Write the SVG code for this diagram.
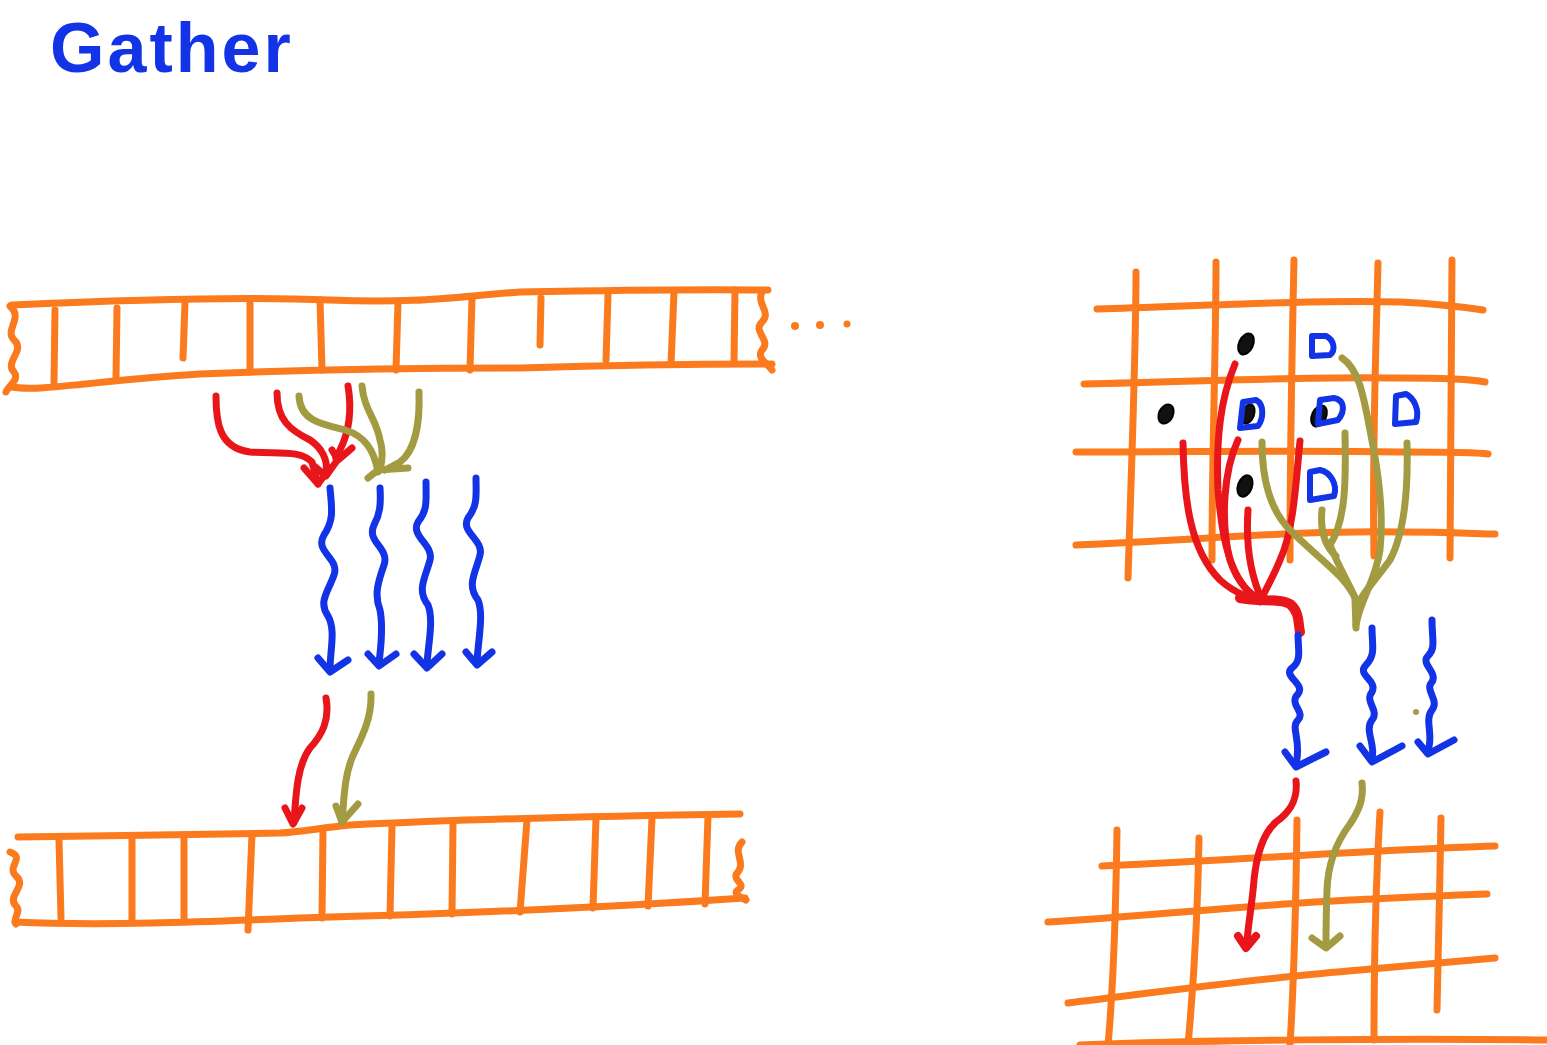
<svg xmlns="http://www.w3.org/2000/svg" width="1547" height="1045" viewBox="0 0 1547 1045">
<style>
.o{fill:none;stroke:#FB7A1E;stroke-width:7;stroke-linecap:round;stroke-linejoin:round}
.r{fill:none;stroke:#E8161B;stroke-width:7;stroke-linecap:round;stroke-linejoin:round}
.g{fill:none;stroke:#A39B42;stroke-width:7;stroke-linecap:round;stroke-linejoin:round}
.b{fill:none;stroke:#1234E6;stroke-width:7;stroke-linecap:round;stroke-linejoin:round}
.k{fill:#111;stroke:#000;stroke-width:2}
.d{fill:none;stroke:#1234E6;stroke-width:6;stroke-linejoin:round}
</style>
<rect width="1547" height="1045" fill="#fff"/>
<text x="50" y="72" font-family="Liberation Sans, Arial, sans-serif" font-size="70" font-weight="bold" fill="#1234E6" letter-spacing="3">Gather</text>

<g id="top-array">
<path class="o" d="M12,305 C120,300 240,296 330,300 C420,304 460,296 520,292 C620,290 700,289 768,290"/>
<path class="o" d="M12,387 C40,392 100,380 200,374 C300,370 420,368 520,368 C620,365 700,364 772,364"/>
<path class="o" d="M10,306 C24,318 4,330 14,340 C26,350 4,362 14,372 C20,380 8,386 6,392"/>
<path class="o" d="M762,292 C756,304 772,312 762,322 C752,332 772,340 762,350 C756,358 768,364 772,370"/>
<path class="o" d="M55,310 L54,382 M117,308 L116,378 M185,303 L183,358 M250,300 L250,372 M320,300 L322,370 M398,302 L396,370 M472,298 L470,370 M541,298 L540,345 M608,295 L606,360 M674,292 L671,364 M735,290 L734,362"/>
<circle cx="795" cy="326" r="4" fill="#FB7A1E"/>
<circle cx="820" cy="325" r="4" fill="#FB7A1E"/>
<circle cx="847" cy="324" r="3.5" fill="#FB7A1E"/>
</g>

<g id="bottom-array">
<path class="o" d="M18,837 C100,836 220,834 280,833 C300,832 320,828 350,825 C450,820 600,816 740,814"/>
<path class="o" d="M15,922 C100,926 200,922 300,918 C450,914 600,908 745,898"/>
<path class="o" d="M10,852 C26,858 6,866 16,876 C28,886 6,896 16,906 C22,912 12,918 16,924"/>
<path class="o" d="M742,842 C732,852 746,862 738,872 C730,880 748,884 738,890 C732,894 742,898 746,900"/>
<path class="o" d="M59,840 L61,918 M132,838 L132,920 M184,836 L184,918 M252,834 L248,930 M323,829 L322,918 M392,826 L390,916 M453,824 L452,914 M527,820 L520,912 M596,818 L593,908 M652,818 L648,906 M708,816 L705,904"/>
</g>

<g id="left-connectors">
<path class="r" d="M216,396 C216,420 218,448 250,452 C280,454 300,450 312,462 L318,484"/>
<path class="r" d="M304,468 L318,484 L330,468"/>
<path class="r" d="M277,393 C277,420 290,430 310,440 C322,448 328,460 326,472"/>
<path class="r" d="M314,466 L326,476 L336,462"/>
<path class="r" d="M348,386 C352,410 350,430 340,450 L336,458"/>
<path class="r" d="M332,450 L338,460 L352,448"/>
<path class="g" d="M299,396 C300,420 320,424 345,430 C365,436 374,450 378,472"/>
<path class="g" d="M362,386 C364,410 376,418 380,440 C384,452 382,462 380,470"/>
<path class="g" d="M419,392 C420,420 416,450 400,462 L385,470"/>
<path class="g" d="M368,478 L378,470 L408,468"/>
<path class="r" d="M326,698 C330,720 322,735 310,748 C298,764 296,790 294,822"/>
<path class="r" d="M285,808 L293,824 L302,808"/>
<path class="g" d="M371,694 C372,720 360,740 352,758 C344,778 344,800 342,822"/>
<path class="g" d="M336,806 L342,822 L358,804"/>
</g>

<g id="left-threads">
<path class="b" d="M330,488 C332,510 334,520 324,535 C314,552 340,558 334,575 C328,592 318,602 328,616 C336,630 330,650 330,670"/>
<path class="b" d="M318,658 L330,672 L348,660"/>
<path class="b" d="M380,488 C381,505 380,514 374,525 C366,542 390,548 384,565 C378,582 374,595 380,610 C384,630 380,650 379,664"/>
<path class="b" d="M368,654 L379,666 L396,654"/>
<path class="b" d="M426,482 C426,500 428,510 418,522 C410,536 434,545 430,560 C426,576 416,590 428,605 C434,620 428,645 427,664"/>
<path class="b" d="M414,654 L427,668 L442,654"/>
<path class="b" d="M476,478 C476,495 478,505 468,518 C460,532 484,540 480,555 C476,572 466,585 478,600 C484,615 478,640 477,662"/>
<path class="b" d="M466,652 L477,665 L492,652"/>
</g>

<g id="top-grid">
<path class="o" d="M1097,309 C1200,306 1300,300 1400,302 C1440,304 1470,308 1483,310"/>
<path class="o" d="M1084,384 C1200,382 1300,376 1400,378 C1450,378 1475,380 1485,382"/>
<path class="o" d="M1076,452 C1200,452 1300,450 1400,452 C1450,452 1475,452 1488,454"/>
<path class="o" d="M1076,545 C1200,540 1300,530 1400,532 C1450,532 1480,534 1495,534"/>
<path class="o" d="M1136,272 C1136,350 1132,450 1128,578"/>
<path class="o" d="M1216,262 C1216,350 1212,450 1212,560"/>
<path class="o" d="M1294,260 C1292,350 1290,450 1290,560"/>
<path class="o" d="M1378,263 C1376,350 1372,450 1374,556"/>
<path class="o" d="M1452,260 C1452,350 1450,450 1450,558"/>
</g>

<g id="top-grid-marks">
<ellipse class="k" cx="1246" cy="344" rx="7" ry="11" transform="rotate(25 1246 344)"/>
<ellipse class="k" cx="1166" cy="414" rx="7" ry="10" transform="rotate(25 1166 414)"/>
<ellipse class="k" cx="1245" cy="486" rx="7" ry="11" transform="rotate(20 1245 486)"/>
<ellipse class="k" cx="1248" cy="414" rx="6" ry="10" transform="rotate(20 1248 414)"/>
<ellipse class="k" cx="1319" cy="416" rx="7" ry="11" transform="rotate(25 1319 416)"/>
<path class="d" d="M1312,336 L1312,356 L1330,355 C1336,350 1334,340 1326,336 Z"/>
<path class="d" d="M1243,402 L1240,428 L1258,426 C1264,418 1264,404 1256,400 Z"/>
<path class="d" d="M1320,400 L1318,424 L1338,420 C1346,410 1344,400 1334,398 Z"/>
<path class="d" d="M1396,396 L1395,424 L1416,422 C1420,410 1414,398 1406,394 Z"/>
<path class="d" d="M1310,472 L1310,500 L1334,496 C1338,484 1330,472 1320,470 Z"/>
</g>

<g id="right-fan">
<path class="r" d="M1235,364 C1220,400 1216,440 1218,490 C1222,540 1230,580 1258,600"/>
<path class="r" d="M1183,443 C1184,500 1190,550 1220,580 C1240,598 1260,600 1270,600"/>
<path class="r" d="M1238,440 C1224,470 1220,520 1230,560 C1238,585 1252,596 1262,600"/>
<path class="r" d="M1248,510 C1246,540 1248,570 1262,600"/>
<path class="r" d="M1300,441 C1296,480 1294,530 1280,560 C1272,580 1262,596 1260,602"/>
<path class="r" d="M1240,598 C1260,602 1280,598 1290,604 C1300,612 1298,624 1300,632" style="stroke-width:10"/>
<path class="g" d="M1342,358 C1360,370 1364,400 1370,430 C1378,470 1384,510 1380,550 C1376,580 1360,600 1356,625"/>
<path class="g" d="M1262,442 C1262,480 1270,510 1290,530 C1320,560 1345,575 1356,600"/>
<path class="g" d="M1345,433 C1346,480 1346,520 1330,545 C1340,570 1350,585 1356,600"/>
<path class="g" d="M1407,443 C1408,480 1406,530 1390,560 C1372,585 1360,595 1356,610"/>
<path class="g" d="M1322,510 C1320,530 1324,545 1336,556"/>
<path class="g" d="M1355,600 L1356,628"/>
</g>

<g id="right-threads">
<path class="b" d="M1298,635 C1298,650 1302,660 1292,668 C1282,676 1306,684 1298,694 C1288,704 1306,712 1298,720 C1290,728 1302,740 1296,764"/>
<path class="b" d="M1285,752 L1296,767 L1326,752"/>
<path class="b" d="M1372,628 C1372,645 1376,655 1366,665 C1356,675 1378,680 1372,692 C1364,702 1380,710 1372,720 C1364,730 1376,745 1372,758"/>
<path class="b" d="M1360,746 L1372,762 L1402,746"/>
<path class="b" d="M1432,620 C1432,640 1436,648 1428,656 C1420,664 1438,672 1432,682 C1424,690 1440,700 1432,710 C1424,720 1434,735 1428,750"/>
<path class="b" d="M1418,742 L1428,754 L1454,740"/>
<circle cx="1416" cy="712" r="3" fill="#A39B42"/>
</g>

<g id="bottom-grid">
<path class="o" d="M1102,866 C1200,862 1300,855 1400,850 C1450,848 1480,846 1495,846"/>
<path class="o" d="M1048,922 C1150,916 1250,905 1350,900 C1420,897 1470,894 1487,894"/>
<path class="o" d="M1068,1003 C1160,992 1260,978 1360,970 C1430,964 1470,960 1495,958"/>
<path class="o" d="M1080,1045 C1200,1040 1400,1038 1547,1040"/>
<path class="o" d="M1117,830 C1116,900 1114,980 1108,1045"/>
<path class="o" d="M1199,838 C1198,900 1194,980 1188,1045"/>
<path class="o" d="M1297,820 C1296,900 1294,980 1290,1045"/>
<path class="o" d="M1380,812 C1376,880 1374,960 1374,1040"/>
<path class="o" d="M1441,818 C1440,880 1438,960 1437,1010"/>
</g>

<g id="right-connectors">
<path class="r" d="M1296,781 C1298,800 1290,812 1276,822 C1262,834 1256,860 1254,880 C1252,905 1248,925 1247,942"/>
<path class="r" d="M1238,936 L1246,948 L1256,936" style="stroke-width:8"/>
<path class="g" d="M1362,783 C1364,800 1358,812 1350,824 C1338,840 1328,860 1327,890 C1326,915 1326,930 1326,946"/>
<path class="g" d="M1312,938 L1326,948 L1340,936"/>
</g>
</svg>
